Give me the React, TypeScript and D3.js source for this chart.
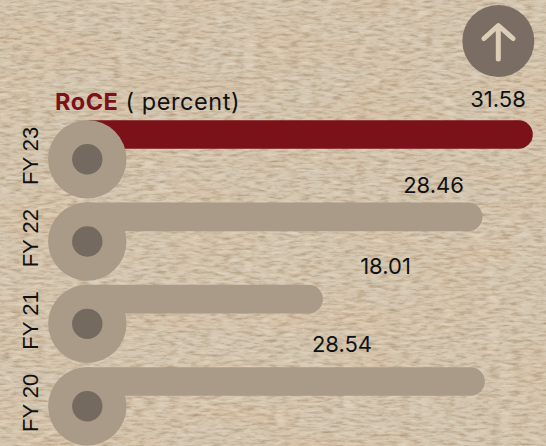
import React from "react";
import * as d3 from "d3";

const categories = ["FY 23", "FY 22", "FY 21", "FY 20"];
const values = [31.58, 28.33, 18.01, 28.48];
const valueLabels = ["31.58", "28.46", "18.01", "28.54"];
const labelXs = [498, 433.5, 385.5, 342];
const labelYs = [107, 193, 274, 352];

const x = d3.scaleLinear().domain([0, 31.58]).range([44.3, 532.8]);
const y = d3.scaleLinear().domain([0, 3]).range([134.5, 381.5]);
const BAR_H = 28.6;
const CX = 87.3;
const FONT = "Inter, 'Liberation Sans', sans-serif";

export default function App() {
  return (
    <svg width={546} height={446} style={{ position: "absolute", left: 0, top: 0 }}>
      <defs>
        <filter id="paper" x="0" y="0" width="100%" height="100%" colorInterpolationFilters="sRGB">
          <feTurbulence type="fractalNoise" baseFrequency="0.07 0.3" numOctaves={4} seed={7} result="n" />
          <feColorMatrix in="n" type="matrix" values="0 0 0 0 0.9  0 0 0 0 0.85  0 0 0 0 0.77  1.2 1.2 0 0 -1.1" result="light" />
          <feTurbulence type="fractalNoise" baseFrequency="0.09 0.35" numOctaves={3} seed={21} result="m" />
          <feColorMatrix in="m" type="matrix" values="0 0 0 0 0.7  0 0 0 0 0.61  0 0 0 0 0.49  0 2 0 0 -0.8" result="dark" />
          <feTurbulence type="fractalNoise" baseFrequency="0.012 0.03" numOctaves={2} seed={3} result="b" />
          <feColorMatrix in="b" type="matrix" values="0 0 0 0 0.85  0 0 0 0 0.74  0 0 0 0 0.62  1.4 0 0 0 -0.6" result="warm" />
          <feFlood floodColor="#d4c7b2" result="base" />
          <feMerge>
            <feMergeNode in="base" />
            <feMergeNode in="warm" />
            <feMergeNode in="dark" />
            <feMergeNode in="light" />
          </feMerge>
        </filter>
      </defs>
      <rect width={546} height={446} filter="url(#paper)" />

      <g>
        <circle cx={498.3} cy={41} r={36} fill="#7a6e64" />
        <path
          d="M498.3 59V26M484 38.5L498.3 25.5L513 38.5"
          fill="none"
          stroke="#dccdb6"
          strokeWidth={5}
          strokeLinecap="round"
          strokeLinejoin="round"
        />
      </g>

      <text x={55} y={110} fontFamily={FONT} fontSize={23.5} letterSpacing={0.55} fill="#111">
        <tspan fill="#7b1119" fontWeight={700}>RoCE</tspan>
        <tspan> ( percent)</tspan>
      </text>

      {categories.map((c, i) => {
        const cy = y(i);
        const color = i === 0 ? "#7b1119" : "#a99b88";
        const barY = cy - 14.3;
        const end = x(values[i]);
        return (
          <g key={c}>
            <path
              d={`M${CX} ${barY}H${end - BAR_H / 2}a${BAR_H / 2} ${BAR_H / 2} 0 0 1 0 ${BAR_H}H${CX}Z`}
              fill={color}
            />
            <circle cx={CX} cy={cy + 24.7} r={39.2} fill="#a99b88" />
            <circle cx={CX} cy={cy + 24.7} r={15.2} fill="#746a60" />
            <text
              transform={`translate(38,${cy + 50.5}) rotate(-90)`}
              fontFamily="'Liberation Sans', Arial, sans-serif"
              fontSize={22}
              fill="#111"
            >
              {c}
            </text>
            <text x={labelXs[i]} y={labelYs[i]} textAnchor="middle" fontFamily={FONT} fontSize={22} fill="#111">
              {valueLabels[i]}
            </text>
          </g>
        );
      })}
    </svg>
  );
}
